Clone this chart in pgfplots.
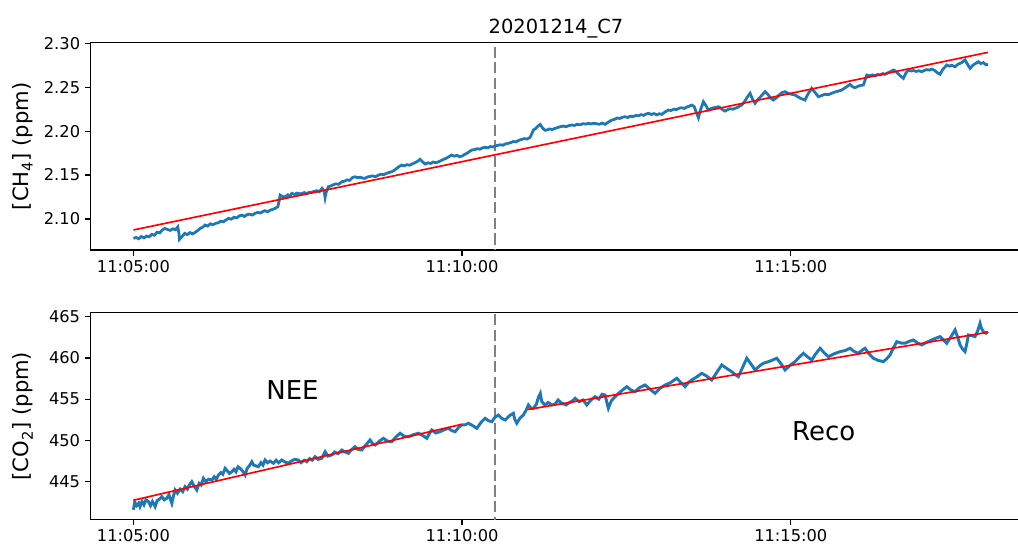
\documentclass[border=0pt]{standalone}
\usepackage{fontspec}
\setmainfont{DejaVu Sans}
\usepackage{pgfplots}
\pgfplotsset{compat=1.18}
\definecolor{mplblue}{RGB}{31,119,180}
\definecolor{vgray}{RGB}{128,128,128}
\begin{document}
\begin{tikzpicture}
\path[use as bounding box] (0,0) rectangle (732.96pt,393.84pt);
\pgfplotsset{
  mystyle/.style={
    scale only axis, width=676.8pt,
    xmin=-0.65, xmax=13.65,
    axis line style={line width=0.9pt},
    every tick/.style={line width=0.9pt, black},
    major tick length=4.1pt,
    tick align=outside,
    xtick pos=bottom, ytick pos=left,
    xtick={0,5,10}, xticklabels={11:05:00,11:10:00,11:15:00},
    tick label style={font=\fontsize{11.7}{14}\selectfont},
    /pgf/number format/assume math mode=true,
    label style={font=\fontsize{15.2}{18}\selectfont},
    ylabel style={at={(axis description cs:-0.072,0.5)}, anchor=center},
    clip=true,
  }
}
\begin{axis}[mystyle,
  at={(65.3pt,213.84pt)}, anchor=south west, height=149.26pt,
  ymin=2.0647, ymax=2.3007,
  ytick={2.10,2.15,2.20,2.25,2.30},
  yticklabel style={/pgf/number format/.cd, fixed, fixed zerofill, precision=2},
  ylabel={[CH\textsubscript{4}] (ppm)},
  title={20201214\_C7},
  title style={font=\fontsize{14}{16}\selectfont, at={(axis description cs:0.495,1)}, anchor=base, yshift=0.8pt},
]
\addplot[vgray, line width=1.9pt, dash pattern=on 8pt off 3.2pt] coordinates {(5.5,2.0) (5.5,2.4)};
\addplot[mplblue, line width=2pt] coordinates {
(0.00,2.0779) (0.04,2.0790) (0.08,2.0775) (0.12,2.0800) (0.16,2.0785) (0.20,2.0805) (0.24,2.0798) (0.28,2.0825) (0.32,2.0815) (0.36,2.0850)
(0.40,2.0842) (0.44,2.0875) (0.48,2.0893) (0.52,2.0880) (0.56,2.0870) (0.60,2.0888) (0.64,2.0878) (0.675,2.0911) (0.69,2.0850) (0.70,2.0768)
(0.74,2.0800) (0.78,2.0836) (0.82,2.0822) (0.86,2.0845) (0.90,2.0830) (0.94,2.0848) (0.98,2.0870) (1.02,2.0895) (1.06,2.0910) (1.09,2.0931)
(1.13,2.0920) (1.17,2.0945) (1.21,2.0935) (1.25,2.0950) (1.29,2.0957) (1.33,2.0975) (1.37,2.0968) (1.41,2.0990) (1.45,2.1007) (1.49,2.0998)
(1.53,2.1020) (1.57,2.1012) (1.61,2.1035) (1.65,2.1044) (1.69,2.1030) (1.73,2.1050) (1.77,2.1055) (1.81,2.1045) (1.85,2.1064) (1.89,2.1075)
(1.93,2.1068) (1.97,2.1085) (2.00,2.1094) (2.04,2.1082) (2.08,2.1100) (2.12,2.1110) (2.155,2.1121) (2.197,2.1139) (2.215,2.1200) (2.232,2.1272)
(2.27,2.1255) (2.308,2.1253) (2.35,2.1275) (2.38,2.1262) (2.41,2.1292) (2.45,2.1280) (2.49,2.1295) (2.53,2.1285) (2.56,2.1292) (2.60,2.1300)
(2.64,2.1290) (2.68,2.1305) (2.71,2.1303) (2.75,2.1315) (2.79,2.1322) (2.83,2.1310) (2.87,2.1349) (2.90,2.1320) (2.916,2.1246) (2.93,2.1300)
(2.966,2.1367) (3.00,2.1375) (3.04,2.1390) (3.08,2.1400) (3.12,2.1395) (3.17,2.1424) (3.21,2.1430) (3.25,2.1445) (3.29,2.1440) (3.33,2.1470)
(3.37,2.1481) (3.41,2.1470) (3.45,2.1475) (3.49,2.1465) (3.52,2.1462) (3.56,2.1478) (3.60,2.1485) (3.64,2.1490) (3.68,2.1482) (3.73,2.1500)
(3.77,2.1510) (3.81,2.1505) (3.85,2.1520) (3.89,2.1530) (3.93,2.1538) (3.97,2.1555) (4.01,2.1580) (4.05,2.1600) (4.08,2.1614) (4.12,2.1605)
(4.16,2.1618) (4.20,2.1612) (4.235,2.1625) (4.28,2.1640) (4.32,2.1655) (4.36,2.1679) (4.40,2.1650) (4.44,2.1625) (4.48,2.1640) (4.52,2.1632)
(4.56,2.1648) (4.60,2.1640) (4.64,2.1651) (4.68,2.1665) (4.72,2.1680) (4.76,2.1692) (4.80,2.1710) (4.84,2.1728) (4.88,2.1715) (4.92,2.1725)
(4.96,2.1710) (5.00,2.1716) (5.04,2.1735) (5.08,2.1750) (5.11,2.1768) (5.15,2.1785) (5.19,2.1790) (5.23,2.1800) (5.27,2.1795) (5.31,2.1810)
(5.35,2.1816) (5.39,2.1810) (5.43,2.1825) (5.47,2.1820) (5.50,2.1830) (5.54,2.1838) (5.58,2.1845) (5.62,2.1840) (5.66,2.1855) (5.70,2.1861)
(5.74,2.1870) (5.78,2.1882) (5.82,2.1878) (5.86,2.1895) (5.91,2.1907) (5.95,2.1915) (5.99,2.1910) (6.034,2.1929) (6.06,2.1970) (6.085,2.2013)
(6.12,2.2030) (6.15,2.2055) (6.187,2.2077) (6.22,2.2040) (6.26,2.2010) (6.29,2.2013) (6.33,2.2025) (6.37,2.2018) (6.415,2.2032) (6.45,2.2040)
(6.49,2.2050) (6.54,2.2058) (6.58,2.2050) (6.62,2.2062) (6.67,2.2070) (6.71,2.2065) (6.75,2.2078) (6.79,2.2072) (6.84,2.2085) (6.88,2.2080)
(6.92,2.2089) (6.96,2.2082) (7.00,2.2090) (7.04,2.2085) (7.09,2.2078) (7.13,2.2092) (7.175,2.2078) (7.22,2.2100) (7.277,2.2126) (7.32,2.2135)
(7.36,2.2150) (7.40,2.2145) (7.44,2.2158) (7.479,2.2164) (7.52,2.2155) (7.56,2.2170) (7.60,2.2165) (7.64,2.2178) (7.68,2.2175) (7.72,2.2188)
(7.76,2.2180) (7.80,2.2195) (7.834,2.2203) (7.88,2.2190) (7.92,2.2200) (7.96,2.2185) (8.00,2.2198) (8.038,2.2191) (8.09,2.2220) (8.138,2.2240)
(8.18,2.2235) (8.22,2.2250) (8.26,2.2245) (8.30,2.2260) (8.342,2.2267) (8.38,2.2258) (8.42,2.2275) (8.46,2.2285) (8.494,2.2297) (8.53,2.2280)
(8.56,2.2220) (8.595,2.2153) (8.63,2.2250) (8.671,2.2335) (8.71,2.2290) (8.747,2.2240) (8.78,2.2255) (8.82,2.2265) (8.86,2.2270) (8.899,2.2278)
(8.94,2.2260) (8.97,2.2240) (9.001,2.2229) (9.04,2.2245) (9.08,2.2255) (9.12,2.2250) (9.153,2.2260) (9.19,2.2270) (9.22,2.2285) (9.255,2.2297)
(9.30,2.2340) (9.34,2.2390) (9.381,2.2431) (9.42,2.2360) (9.457,2.2317) (9.50,2.2360) (9.55,2.2400) (9.609,2.2449) (9.65,2.2420) (9.69,2.2380)
(9.735,2.2354) (9.78,2.2380) (9.82,2.2410) (9.87,2.2440) (9.913,2.2449) (9.96,2.2430) (10.01,2.2420) (10.065,2.2411) (10.11,2.2390) (10.16,2.2370)
(10.217,2.2354) (10.26,2.2420) (10.319,2.2487) (10.37,2.2440) (10.42,2.2392) (10.47,2.2405) (10.52,2.2420) (10.57,2.2415) (10.623,2.2431) (10.67,2.2445)
(10.72,2.2455) (10.776,2.2468) (10.82,2.2490) (10.86,2.2510) (10.902,2.2533) (10.94,2.2505) (10.978,2.2494) (11.02,2.2510) (11.06,2.2520) (11.104,2.2525)
(11.13,2.2580) (11.156,2.2639) (11.20,2.2630) (11.24,2.2640) (11.282,2.2631) (11.32,2.2645) (11.36,2.2640) (11.40,2.2655) (11.434,2.2647) (11.48,2.2665)
(11.52,2.2680) (11.561,2.2696) (11.60,2.2680) (11.65,2.2640) (11.713,2.2601) (11.75,2.2660) (11.789,2.2696) (11.83,2.2685) (11.87,2.2690) (11.91,2.2680)
(11.95,2.2688) (11.993,2.2677) (12.03,2.2690) (12.07,2.2700) (12.11,2.2695) (12.145,2.2707) (12.19,2.2690) (12.23,2.2665) (12.271,2.2647) (12.31,2.2700)
(12.372,2.2753) (12.41,2.2740) (12.45,2.2750) (12.499,2.2733) (12.54,2.2760) (12.60,2.2780) (12.651,2.2810) (12.69,2.2760) (12.727,2.2715) (12.77,2.2750)
(12.81,2.2770) (12.854,2.2790) (12.89,2.2770) (12.93,2.2780) (12.97,2.2755) (13.00,2.2761)
};
\addplot[red, line width=1.2pt] coordinates {(0,2.0875) (13.0,2.2897)};
\end{axis}
\begin{axis}[mystyle,
  at={(65.3pt,19.94pt)}, anchor=south west, height=148.75pt,
  ymin=440.44, ymax=465.48,
  ytick={445,450,455,460,465},
  ylabel={[CO\textsubscript{2}] (ppm)},
]
\addplot[vgray, line width=1.9pt, dash pattern=on 8pt off 3.2pt] coordinates {(5.5,430) (5.5,470)};
\addplot[mplblue, line width=2.1pt] coordinates {
(0.00,441.6) (0.02,442.5) (0.05,442.1) (0.08,442.4) (0.10,441.97) (0.13,442.6) (0.16,442.2) (0.19,442.8) (0.228,442.58) (0.26,442.1)
(0.29,442.6) (0.33,441.97) (0.36,442.7) (0.40,442.9) (0.432,443.18) (0.47,442.8) (0.508,442.99) (0.54,443.4) (0.584,442.38) (0.61,443.3)
(0.634,443.99) (0.67,443.6) (0.71,444.1) (0.75,443.8) (0.786,444.39) (0.82,444.1) (0.85,444.6) (0.888,445.0) (0.92,444.5) (0.964,443.99)
(1.00,444.8) (1.03,444.6) (1.065,445.41) (1.10,445.0) (1.14,445.3) (1.193,445.21) (1.23,445.6) (1.26,445.3) (1.293,445.81) (1.33,446.1)
(1.36,445.9) (1.395,446.62) (1.43,446.3) (1.46,446.0) (1.497,446.21) (1.53,446.5) (1.56,446.2) (1.59,446.8) (1.623,446.62) (1.66,446.3)
(1.699,445.81) (1.73,446.6) (1.77,447.0) (1.801,447.42) (1.83,447.0) (1.87,446.9) (1.901,446.82) (1.94,447.3) (1.97,447.0) (2.003,447.63)
(2.04,447.3) (2.08,447.5) (2.130,447.23) (2.17,447.6) (2.21,447.3) (2.257,447.63) (2.30,447.4) (2.358,447.23) (2.40,447.5) (2.45,447.7)
(2.510,447.63) (2.55,447.3) (2.60,447.6) (2.638,447.42) (2.68,447.8) (2.72,447.6) (2.764,448.03) (2.81,447.7) (2.866,447.84) (2.916,448.64)
(2.96,448.1) (3.018,448.24) (3.06,448.6) (3.11,448.4) (3.170,448.84) (3.22,448.6) (3.270,448.44) (3.32,448.9) (3.372,449.24) (3.42,448.9)
(3.474,448.84) (3.53,449.4) (3.600,450.05) (3.64,449.6) (3.677,449.45) (3.74,449.9) (3.803,450.26) (3.87,449.9) (3.931,449.85) (3.99,450.4)
(4.057,450.87) (4.12,450.5) (4.183,450.45) (4.26,450.7) (4.335,450.87) (4.40,450.6) (4.463,450.26) (4.50,450.8) (4.539,451.27) (4.60,450.9)
(4.665,451.06) (4.73,451.3) (4.792,451.47) (4.84,451.2) (4.894,451.06) (4.95,451.6) (4.995,451.87) (5.05,451.9) (5.096,452.08) (5.16,451.8)
(5.224,451.47) (5.29,452.2) (5.350,452.68) (5.40,452.4) (5.452,452.27) (5.50,452.8) (5.552,453.08) (5.60,452.7) (5.654,452.48) (5.72,453.0)
(5.780,453.29) (5.80,452.6) (5.832,452.08) (5.88,452.7) (5.932,453.08) (5.97,453.6) (6.009,454.30) (6.05,453.9) (6.085,453.89) (6.13,454.4)
(6.16,455.2) (6.19,455.7) (6.212,454.70) (6.26,454.3) (6.31,454.6) (6.365,454.30) (6.415,454.4) (6.46,454.9) (6.517,454.50) (6.58,454.3)
(6.617,454.50) (6.68,454.8) (6.719,455.11) (6.78,454.7) (6.84,454.9) (6.897,454.30) (6.96,454.9) (7.023,455.30) (7.08,455.0) (7.130,455.6)
(7.175,455.51) (7.225,453.89) (7.27,454.8) (7.327,455.30) (7.38,455.7) (7.44,456.1) (7.505,456.52) (7.57,456.1) (7.631,455.91) (7.70,456.4)
(7.783,456.72) (7.86,456.2) (7.936,455.71) (8.01,456.3) (8.088,456.72) (8.17,457.0) (8.266,457.53) (8.33,457.0) (8.392,456.52) (8.44,457.0)
(8.494,457.33) (8.57,457.7) (8.646,458.14) (8.72,457.8) (8.798,457.33) (8.87,458.2) (8.950,459.15) (9.03,458.7) (9.103,458.33) (9.15,458.0)
(9.203,457.73) (9.27,458.9) (9.331,459.96) (9.40,459.2) (9.457,458.54) (9.52,459.0) (9.583,459.35) (9.68,459.6) (9.787,459.96) (9.85,459.3)
(9.913,458.54) (9.99,459.1) (10.065,459.55) (10.13,460.1) (10.192,460.56) (10.26,460.1) (10.319,459.75) (10.38,460.5) (10.446,461.17) (10.51,460.6)
(10.572,460.15) (10.66,460.5) (10.750,460.76) (10.83,460.9) (10.902,461.17) (10.96,460.8) (11.028,460.56) (11.08,460.9) (11.130,461.17) (11.19,460.5)
(11.256,459.96) (11.33,459.7) (11.409,459.55) (11.46,459.9) (11.511,460.36) (11.56,461.2) (11.612,461.97) (11.68,461.8) (11.738,461.78) (11.80,462.0)
(11.865,462.18) (11.93,461.8) (11.993,461.57) (12.07,461.9) (12.145,462.18) (12.21,462.4) (12.271,462.58) (12.32,462.2) (12.373,461.78) (12.44,462.6)
(12.499,463.39) (12.54,462.5) (12.575,461.57) (12.62,461.0) (12.651,460.76) (12.68,461.8) (12.702,462.78) (12.75,462.7) (12.803,462.58) (12.84,463.2)
(12.879,464.20) (12.90,463.6) (12.930,463.18) (12.97,463.0) (13.00,463.18)
};
\addplot[red, line width=1.2pt] coordinates {(0,442.75) (5.0,451.96)};
\addplot[red, line width=1.2pt] coordinates {(6.0,453.75) (13.0,463.11)};
\node[font=\fontsize{18.7}{22}\selectfont] at (axis cs:2.42,456.1) {NEE};
\node[font=\fontsize{18.7}{22}\selectfont] at (axis cs:10.5,451.06) {Reco};
\end{axis}
\end{tikzpicture}
\end{document}
